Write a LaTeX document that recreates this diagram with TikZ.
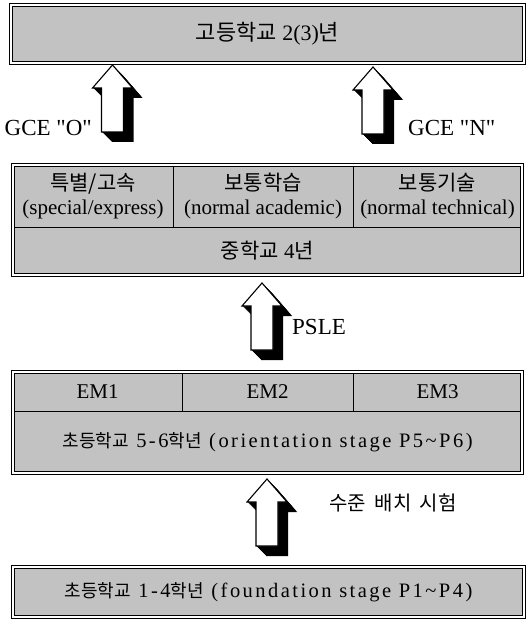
\documentclass[tikz,border=0pt]{standalone}
\usepackage{fontspec}
\setmainfont{Liberation Serif}
\newfontfamily\kr{Noto Sans CJK KR}
\usetikzlibrary{positioning}

\definecolor{stipple}{gray}{0.76}
\newcommand{\krs}[1]{{\fontsize{18}{22}\selectfont\kr #1}}

\begin{document}
\begin{tikzpicture}[
		x=1pt, y=-1pt,
		cell/.style={
			draw,
			fill=stipple,
			line width=0.8pt,
			inner sep=0pt,
			outer sep=0pt,
			align=center,
			font=\fontsize{21}{24}\selectfont
		},
		frame/.style={draw, double, double distance=1.4pt, line width=0.9pt},
		lbl/.style={inner sep=0pt, font=\fontsize{23}{26}\selectfont},
		wide/.style={font=\fontsize{20.5}{24}\selectfont\addfontfeature{LetterSpace=12}},
		uparrow/.pic={
			\foreach \s in {1,...,10}
				\fill[shift={(\s,\s)}] (0,0) -- (20,23) -- (11,23) -- (11,67) -- (-11,67) -- (-11,23) -- (-20,23) -- cycle;
			\filldraw[fill=white, line width=1.1pt] (0,0) -- (20,23) -- (11,23) -- (11,67) -- (-11,67) -- (-11,23) -- (-20,23) -- cycle;
		}
		]
		
		\useasboundingbox (0,0) rectangle (526,620);
		
		% high school
		\node[cell, minimum width=513pt, minimum height=58pt, font=\fontsize{22}{26}\selectfont] (high) at (267.5,34)
		{{\kr 고등학교} 2(3){\kr 년}};
		
		% secondary school
		\node[cell, minimum width=160pt, minimum height=62pt] (special) at (93,196)
		{{\kr 특별/고속}\\(special/express)};
		\node[cell, minimum width=180pt, minimum height=62pt, right=0pt of special] (academic)
		{{\kr 보통학습}\\(normal academic)};
		\node[cell, minimum width=169pt, minimum height=62pt, right=0pt of academic] (technical)
		{{\kr 보통기술}\\(normal technical)};
		\node[cell, minimum width=509pt, minimum height=48pt, below right=0pt and 0pt of special.south west] (second)
		{{\kr 중학교} 4{\kr 년}};
		
		% primary school
		\node[cell, minimum width=169pt, minimum height=39pt] (em1) at (97.5,391.5) {EM1};
		\node[cell, minimum width=171pt, minimum height=39pt, right=0pt of em1] (em2) {EM2};
		\node[cell, minimum width=169pt, minimum height=39pt, right=0pt of em2] (em3) {EM3};
		\node[cell, wide, minimum width=509pt, minimum height=62pt, below right=0pt and 0pt of em1.south west] (upper)
		{\krs{초등학교} 5-6\krs{학년} (orientation stage P5\textasciitilde P6)};
		\node[cell, wide, minimum width=511pt, minimum height=50pt] (lower) at (268.5,592)
		{\krs{초등학교} 1-4\krs{학년} (foundation stage P1\textasciitilde P4)};
		
		\draw[frame] (high.north west) rectangle (high.south east);
		\draw[frame] (special.north west) rectangle (second.south east);
		\draw[frame] (em1.north west) rectangle (upper.south east);
		\draw[frame] (lower.north west) rectangle (lower.south east);
		
		% exams
		\pic at (112.5,65) {uparrow};
		\pic at (373,67) {uparrow};
		\pic at (262,283) {uparrow};
		\pic at (267,479) {uparrow};
		
		\node[lbl, anchor=east] (gceo) at (92,128) {GCE \textquotedbl O\textquotedbl};
		\node[lbl, anchor=west] (gcen) at (408,128) {GCE \textquotedbl N\textquotedbl};
		\node[lbl, anchor=west] (psle) at (292,327) {PSLE};
		\node[inner sep=0pt, font=\fontsize{20}{24}\selectfont\kr] (test) at (393,503) {수준\hspace{4pt} 배치\hspace{4pt} 시험};
		
	\end{tikzpicture}
\end{document}
